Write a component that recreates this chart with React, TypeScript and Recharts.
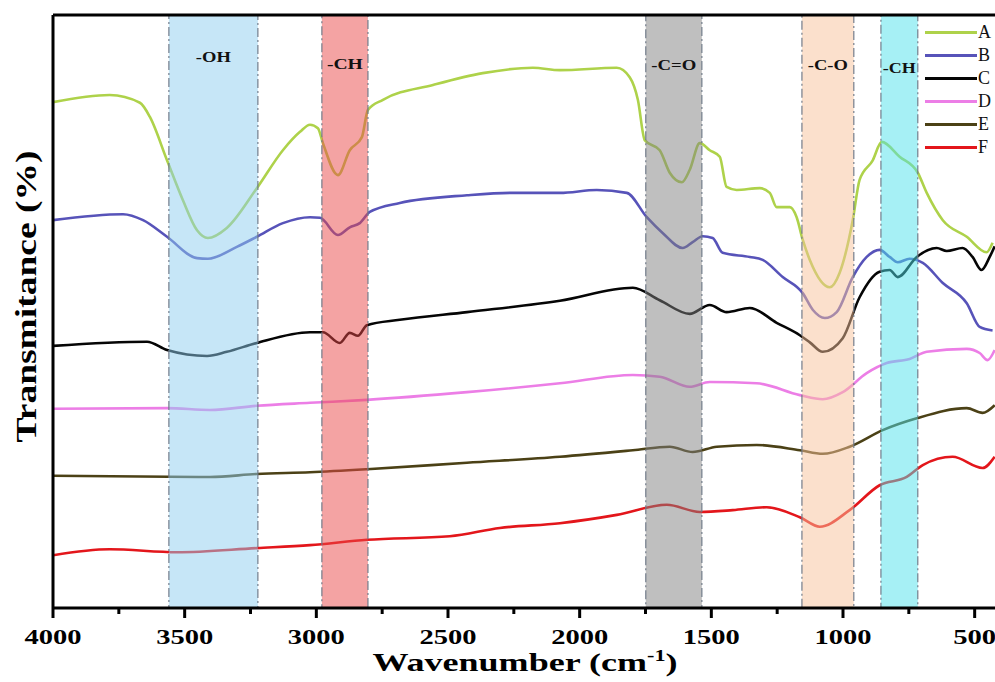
import React from 'react';
import { LineChart, Line, XAxis, YAxis, ReferenceArea, ReferenceLine } from 'recharts';

// FTIR spectra, wavenumber (cm-1) vs transmittance (arbitrary offset units)
const seriesA = [
  { w: 4000, t: 85.3 }, { w: 3785, t: 86.5 }, { w: 3670, t: 85.2 }, { w: 3632, t: 82.8 },
  { w: 3567, t: 75.5 }, { w: 3507, t: 68.8 }, { w: 3453, t: 63.7 }, { w: 3412, t: 62.4 },
  { w: 3340, t: 64.1 }, { w: 3226, t: 70.8 }, { w: 3127, t: 77.2 }, { w: 3062, t: 80.3 },
  { w: 3024, t: 81.5 }, { w: 2994, t: 80.9 }, { w: 2975, t: 78.4 }, { w: 2918, t: 73.0 },
  { w: 2873, t: 77.2 }, { w: 2827, t: 79.4 }, { w: 2804, t: 84.0 }, { w: 2747, t: 85.7 },
  { w: 2557, t: 88.2 }, { w: 2368, t: 90.2 }, { w: 2178, t: 91.1 }, { w: 2075, t: 90.7 },
  { w: 1859, t: 91.1 }, { w: 1810, t: 89.5 }, { w: 1779, t: 85.7 }, { w: 1753, t: 78.9 },
  { w: 1696, t: 77.2 }, { w: 1658, t: 73.4 }, { w: 1612, t: 71.8 }, { w: 1582, t: 73.9 },
  { w: 1544, t: 78.4 }, { w: 1506, t: 77.2 }, { w: 1468, t: 76.1 }, { w: 1442, t: 71.0 },
  { w: 1404, t: 70.5 }, { w: 1316, t: 70.8 }, { w: 1278, t: 70.0 }, { w: 1252, t: 67.6 },
  { w: 1202, t: 67.6 }, { w: 1176, t: 65.9 }, { w: 1153, t: 62.1 }, { w: 1126, t: 58.7 },
  { w: 1050, t: 54.1 }, { w: 1013, t: 56.5 }, { w: 963, t: 65.4 }, { w: 937, t: 72.2 },
  { w: 887, t: 75.5 }, { w: 853, t: 78.6 }, { w: 785, t: 76.1 }, { w: 716, t: 73.4 },
  { w: 682, t: 70.0 }, { w: 621, t: 65.4 }, { w: 530, t: 62.6 }, { w: 455, t: 60.0 },
  { w: 432, t: 61.6 },
];

const seriesB = [
  { w: 4000, t: 65.4 }, { w: 3734, t: 66.4 }, { w: 3658, t: 65.4 }, { w: 3567, t: 62.6 },
  { w: 3453, t: 59.0 }, { w: 3412, t: 58.9 }, { w: 3302, t: 60.9 }, { w: 3226, t: 62.6 },
  { w: 3127, t: 64.9 }, { w: 3024, t: 65.9 }, { w: 2986, t: 65.8 }, { w: 2918, t: 62.9 },
  { w: 2873, t: 64.2 }, { w: 2835, t: 64.9 }, { w: 2797, t: 66.8 }, { w: 2683, t: 68.3 },
  { w: 2428, t: 69.6 }, { w: 2265, t: 70.0 }, { w: 2075, t: 70.0 }, { w: 1935, t: 70.5 },
  { w: 1821, t: 70.0 }, { w: 1745, t: 65.9 }, { w: 1684, t: 63.2 }, { w: 1609, t: 60.7 },
  { w: 1571, t: 61.7 }, { w: 1533, t: 62.7 }, { w: 1495, t: 62.4 }, { w: 1457, t: 59.9 },
  { w: 1354, t: 59.2 }, { w: 1305, t: 58.7 }, { w: 1229, t: 55.8 }, { w: 1153, t: 53.1 },
  { w: 1115, t: 50.3 }, { w: 1069, t: 48.9 }, { w: 1024, t: 49.9 }, { w: 963, t: 55.8 },
  { w: 910, t: 59.2 }, { w: 861, t: 60.4 }, { w: 823, t: 59.2 }, { w: 792, t: 58.3 },
  { w: 747, t: 58.9 }, { w: 697, t: 58.2 }, { w: 621, t: 54.8 }, { w: 530, t: 51.4 },
  { w: 481, t: 47.4 }, { w: 432, t: 46.8 },
];

const seriesC = [
  { w: 4000, t: 44.2 }, { w: 3643, t: 44.9 }, { w: 3567, t: 43.5 }, { w: 3415, t: 42.5 },
  { w: 3340, t: 43.2 }, { w: 3226, t: 44.7 }, { w: 3024, t: 46.5 }, { w: 2975, t: 46.5 },
  { w: 2911, t: 44.7 }, { w: 2873, t: 46.4 }, { w: 2842, t: 45.9 }, { w: 2808, t: 47.7 },
  { w: 2683, t: 48.6 }, { w: 2428, t: 49.9 }, { w: 2075, t: 51.8 }, { w: 1798, t: 54.0 },
  { w: 1696, t: 51.9 }, { w: 1582, t: 49.6 }, { w: 1506, t: 51.1 }, { w: 1442, t: 49.9 },
  { w: 1354, t: 50.6 }, { w: 1252, t: 48.1 }, { w: 1164, t: 46.0 }, { w: 1126, t: 44.8 },
  { w: 1077, t: 43.2 }, { w: 1001, t: 45.5 }, { w: 937, t: 52.4 }, { w: 861, t: 56.7 },
  { w: 823, t: 57.0 }, { w: 792, t: 55.8 }, { w: 720, t: 59.2 }, { w: 644, t: 60.7 },
  { w: 606, t: 60.2 }, { w: 546, t: 60.7 }, { w: 508, t: 59.2 }, { w: 474, t: 57.0 },
  { w: 443, t: 59.2 }, { w: 424, t: 61.0 },
];

const seriesD = [
  { w: 4000, t: 33.6 }, { w: 3567, t: 33.7 }, { w: 3404, t: 33.4 }, { w: 3226, t: 34.1 },
  { w: 3024, t: 34.6 }, { w: 2808, t: 35.1 }, { w: 2428, t: 36.4 }, { w: 2075, t: 37.9 },
  { w: 1798, t: 39.3 }, { w: 1696, t: 39.0 }, { w: 1582, t: 37.3 }, { w: 1506, t: 38.1 },
  { w: 1328, t: 37.9 }, { w: 1164, t: 35.9 }, { w: 1077, t: 35.2 }, { w: 1001, t: 36.4 },
  { w: 910, t: 39.6 }, { w: 834, t: 41.3 }, { w: 747, t: 42.0 }, { w: 682, t: 43.2 },
  { w: 530, t: 43.7 }, { w: 481, t: 43.0 }, { w: 451, t: 41.8 }, { w: 424, t: 43.5 },
];

const seriesE = [
  { w: 4000, t: 22.3 }, { w: 3404, t: 22.1 }, { w: 3226, t: 22.6 }, { w: 3024, t: 22.9 },
  { w: 2808, t: 23.4 }, { w: 2428, t: 24.5 }, { w: 2075, t: 25.5 }, { w: 1798, t: 26.6 },
  { w: 1658, t: 27.2 }, { w: 1571, t: 26.3 }, { w: 1479, t: 27.2 }, { w: 1328, t: 27.5 },
  { w: 1164, t: 26.6 }, { w: 1077, t: 26.0 }, { w: 975, t: 27.2 }, { w: 849, t: 30.0 },
  { w: 720, t: 32.0 }, { w: 530, t: 33.7 }, { w: 470, t: 32.9 }, { w: 424, t: 34.2 },
];

const seriesF = [
  { w: 4000, t: 8.9 }, { w: 3785, t: 9.9 }, { w: 3529, t: 9.4 }, { w: 3226, t: 10.1 },
  { w: 3024, t: 10.6 }, { w: 2808, t: 11.5 }, { w: 2493, t: 12.1 }, { w: 2303, t: 13.5 },
  { w: 2075, t: 14.3 }, { w: 1859, t: 15.7 }, { w: 1669, t: 17.4 }, { w: 1544, t: 16.2 },
  { w: 1419, t: 16.5 }, { w: 1290, t: 17.0 }, { w: 1164, t: 15.3 }, { w: 1088, t: 13.7 },
  { w: 975, t: 16.5 }, { w: 861, t: 20.7 }, { w: 758, t: 22.1 }, { w: 697, t: 24.1 },
  { w: 584, t: 25.5 }, { w: 470, t: 23.6 }, { w: 424, t: 25.5 },
];

const SERIES = [
  { name: 'A', color: '#aed24a', data: seriesA },
  { name: 'B', color: '#5753b9', data: seriesB },
  { name: 'C', color: '#050505', data: seriesC },
  { name: 'D', color: '#ec7ee6', data: seriesD },
  { name: 'E', color: '#4b4116', data: seriesE },
  { name: 'F', color: '#e3161b', data: seriesF },
];

// absorption bands: [from, to] in cm-1
const BANDS = [
  { label: '-OH', x1: 3560, x2: 3222, fill: '#8ecdf0', textY: 62, textW: 35 },
  { label: '-CH', x1: 2979, x2: 2804, fill: '#e94848', textY: 69, textW: 36 },
  { label: '-C=O', x1: 1749, x2: 1536, fill: '#808080', textY: 70, textW: 45 },
  { label: '-C-O', x1: 1156, x2: 959, fill: '#f7c199', textY: 70, textW: 40 },
  { label: '-CH', x1: 856, x2: 716, fill: '#4de1eb', textY: 73, textW: 33 },
];

const X_TICKS = [4000, 3750, 3500, 3250, 3000, 2750, 2500, 2250, 2000, 1750, 1500, 1250, 1000, 750, 500];

const SERIF = '"Times New Roman", "Liberation Serif", Tinos, serif';

const WaveTick = (props: any) => {
  const { x, y, payload } = props;
  const v = payload.value;
  const major = v % 500 === 0;
  return (
    <g>
      <line x1={x} x2={x} y1={y} y2={y + (major ? 10 : 6)} stroke="#000" strokeWidth={3} />
      {major && (
        <text
          x={x}
          y={y + 36}
          textAnchor="middle"
          fontFamily={SERIF}
          fontWeight="bold"
          fontSize={21}
          textLength={v >= 1000 ? 57 : 43}
          lengthAdjust="spacingAndGlyphs"
          fill="#000"
        >
          {v}
        </text>
      )}
    </g>
  );
};

const XTitle = (props: any) => {
  const { x, y, width } = props.viewBox;
  return (
    <text
      x={x + width / 2 - 2}
      y={y + 63}
      textAnchor="middle"
      fontFamily={SERIF}
      fontWeight="bold"
      fontSize={26}
      textLength={305}
      lengthAdjust="spacingAndGlyphs"
      fill="#000"
    >
      Wavenumber (cm<tspan fontSize={16} dy={-10}>-1</tspan><tspan dy={10}>)</tspan>
    </text>
  );
};

const YTitle = (props: any) => {
  const { x, y, height } = props.viewBox;
  const cx = x + 36;
  const cy = y + height / 2 - 15;
  return (
    <text
      x={cx}
      y={cy}
      transform={`rotate(-90 ${cx} ${cy})`}
      textAnchor="middle"
      fontFamily={SERIF}
      fontWeight="bold"
      fontSize={29}
      textLength={292}
      lengthAdjust="spacingAndGlyphs"
      fill="#000"
    >
      Transmitance (%)
    </text>
  );
};

const bandLabel = (text: string, baseY: number, w: number) => (props: any) => {
  const { x, width } = props.viewBox;
  return (
    <text
      x={x + width / 2}
      y={baseY}
      textAnchor="middle"
      fontFamily={SERIF}
      fontWeight="bold"
      fontSize={14}
      textLength={w}
      lengthAdjust="spacingAndGlyphs"
      fill="#111"
    >
      {text}
    </text>
  );
};

const LegendBox = () => (
  <div style={{ position: 'absolute', left: 925, top: 21, fontFamily: SERIF }}>
    {SERIES.map((s) => (
      <div key={s.name} style={{ display: 'flex', alignItems: 'center', height: 23 }}>
        <div style={{ width: 52, height: 3.5, background: s.color }} />
        <span style={{ marginLeft: 1, fontSize: 18, color: '#111' }}>{s.name}</span>
      </div>
    ))}
  </div>
);

export default function App() {
  return (
    <div
      style={{
        position: 'absolute',
        left: 0,
        top: 0,
        width: 995,
        height: 682,
        overflow: 'hidden',
        background: '#fff',
      }}
    >
      <LineChart width={1010} height={682} margin={{ top: 15, right: 9, bottom: 0, left: 0 }}>
        <XAxis
          dataKey="w"
          type="number"
          domain={[400, 4000]}
          reversed
          allowDataOverflow
          ticks={X_TICKS}
          interval={0}
          tick={<WaveTick />}
          tickLine={false}
          tickSize={0}
          tickMargin={0}
          height={74}
          axisLine={{ stroke: '#000', strokeWidth: 3 }}
          label={<XTitle />}
        />
        <YAxis
          type="number"
          domain={[0, 100]}
          width={53}
          tick={false}
          tickLine={false}
          axisLine={{ stroke: '#000', strokeWidth: 3 }}
          label={<YTitle />}
        />
        {SERIES.map((s) => (
          <Line
            key={s.name}
            data={s.data}
            dataKey="t"
            name={s.name}
            type="monotone"
            stroke={s.color}
            strokeWidth={2.6}
            dot={false}
            activeDot={false}
            isAnimationActive={false}
          />
        ))}
        {BANDS.map((b, i) => (
          <ReferenceArea
            key={i}
            x1={b.x1}
            x2={b.x2}
            y1={0}
            y2={100}
            fill={b.fill}
            fillOpacity={0.5}
            stroke="#707a88"
            strokeOpacity={0.9}
            strokeWidth={1.3}
            strokeDasharray="9 3 2 3"
            zIndex={450}
            ifOverflow="visible"
            label={bandLabel(b.label, b.textY, b.textW)}
          />
        ))}
        <ReferenceLine y={100} stroke="#000" strokeWidth={3} zIndex={600} ifOverflow="visible" />
      </LineChart>
      <LegendBox />
    </div>
  );
}
